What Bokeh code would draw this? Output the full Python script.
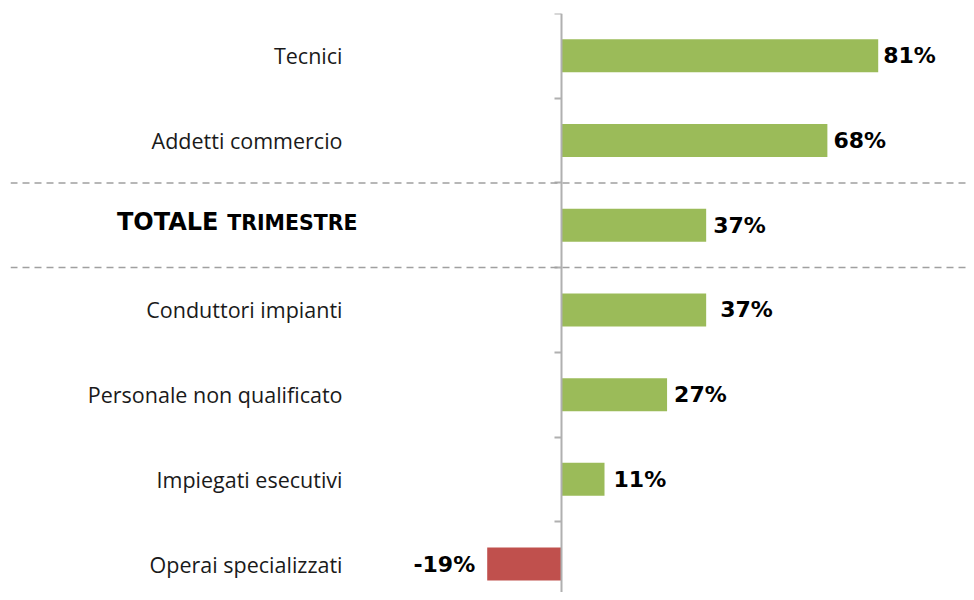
from bokeh.plotting import figure
from bokeh.models import ColumnDataSource, LinearAxis, FixedTicker, Range1d, Span, CustomJSTickFormatter
from bokeh.core.properties import value
from bokeh.embed import file_html
from bokeh.resources import INLINE

categories = ["Tecnici", "Addetti commercio", "TOTALE TRIMESTRE", "Conduttori impianti",
              "Personale non qualificato", "Impiegati esecutivi", "Operai specializzati"]
values = [81, 68, 37, 37, 27, 11, -19]
value_labels = ["81%", "68%", "37%", "37%", "27%", "11%", "-19%"]

GREEN = "#9bbb59"
RED = "#c0504d"

n = len(categories)
pos = [i + 0.5 for i in range(n)]
colors = [GREEN if v >= 0 else RED for v in values]
aligns = ["left" if v >= 0 else "right" for v in values]
offs = [5, 6, 7, 14, 7, 9, -12]

src = ColumnDataSource(dict(y=pos, v=values, color=colors, lab=value_labels, align=aligns, off=offs))

PX = 3.91      # px per percent
BAND = 84.7    # px per category band
W, H = 966, 592
LEFT, TOP = 10, 13
ZERO = 561
p = figure(width=W, height=H, output_backend="svg", toolbar_location=None,
           x_range=Range1d((LEFT - ZERO) / PX, (W - ZERO) / PX),
           y_range=Range1d((H - TOP) / BAND, 0),
           x_axis_location=None, y_axis_location=None,
           min_border_left=LEFT, min_border_right=0, min_border_top=TOP, min_border_bottom=0)
p.outline_line_color = None
p.xgrid.visible = False
p.ygrid.visible = False

p.hbar(y="y", left=0, right="v", height=0.39, fill_color="color", line_color=None, source=src)

ax = LinearAxis(fixed_location=0, ticker=FixedTicker(ticks=list(range(n + 1))),
                formatter=CustomJSTickFormatter(code="return ''"))
ax.axis_line_color = "#b0b0b0"
ax.axis_line_width = 2
ax.major_tick_line_color = "#b0b0b0"
ax.major_tick_line_width = 2
ax.major_tick_out = 7
ax.major_tick_in = 0
ax.minor_tick_line_color = None
p.add_layout(ax, "left")

for loc in (2, 3):
    p.add_layout(Span(location=loc, dimension="width", line_color="#a0a0a0",
                      line_width=1.5, line_dash="7 5"))

# value labels
p.text(x="v", y="y", text="lab", x_offset="off", text_align="align", text_baseline="middle",
       text_font=value("DejaVu Sans"), text_font_style="bold", text_font_size="22px",
       text_color="#000000", source=src)

# category labels
normal_idx = [i for i in range(n) if i != 2]
csrc = ColumnDataSource(dict(y=[pos[i] for i in normal_idx], t=[categories[i] for i in normal_idx]))
p.text(x=0, y="y", text="t", x_offset=-219, text_align="right", text_baseline="middle",
       text_font=value("Open Sans"), text_font_size="21.5px", text_color="#1a1a1a", source=csrc)

tot_words = categories[2].split(" ")
p.text(x=[0], y=[pos[2]], text=[tot_words[1]], x_offset=-204, y_offset=-2, text_align="right",
       text_baseline="middle", text_font=value("DejaVu Sans"), text_font_style="bold",
       text_font_size="20.5px", text_color="#000000")
p.text(x=[0], y=[pos[2]], text=[tot_words[0]], x_offset=-343, y_offset=-3, text_align="right",
       text_baseline="middle", text_font=value("DejaVu Sans"), text_font_style="bold",
       text_font_size="24px", text_color="#000000")

open("out.html", "w").write(file_html(p, INLINE))
